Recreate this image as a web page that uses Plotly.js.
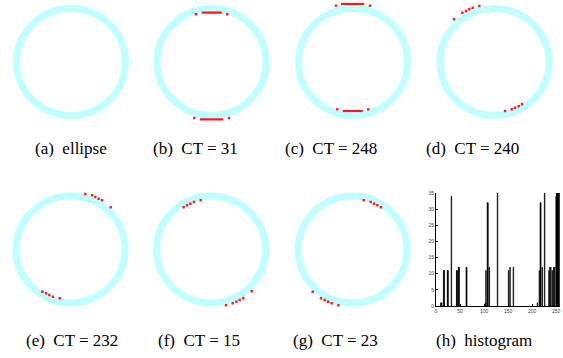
<!DOCTYPE html>
<html><head><meta charset="utf-8">
<script src="https://cdn.plot.ly/plotly-3.0.1.min.js"></script>
<style>html,body{margin:0;padding:0;background:#fff}#chart{width:563px;height:358px}</style>
</head><body><div id="chart"></div>
<script>
// ---- captions ----
const captions = ['(a)\u00a0 ellipse', '(b)\u00a0 CT = 31', '(c)\u00a0 CT = 248', '(d)\u00a0 CT = 240',
                  '(e)\u00a0 CT = 232', '(f)\u00a0 CT = 15', '(g)\u00a0 CT = 23', '(h)\u00a0 histogram'];

// ---- red points per panel (pixel coords relative to ring centre, y up) ----
const dotsAx = [], dotsAy = [];
const dotsBx = [-15.5, 15.8, -17.2, 17.5];
const dotsBy = [47.7, 47.7, -56, -56];
const segBx = [-9.8, 10.2, null, -11.5, 11.8];
const segBy = [49.3, 49.3, null, -57.3, -57.3];
const dotsCx = [-17, 17, -15.7, 15.3];
const dotsCy = [56.3, 56.3, -47.3, -47.3];
const segCx = [-12, 11.3, null, -10.3, 9.7];
const segCy = [58, 58, null, -49, -49];
const dotsDx = [-40.5, -32.2, -28.5, -25.2, -21.8, -15.2, 10.5, 17.2, 20.5, 24.2, 27.5];
const dotsDy = [42.7, 49.3, 51, 52.7, 54.3, 56, -49, -47.3, -45.7, -44.3, -42.3];
const dotsEx = [14.8, 21.5, 24.8, 28.2, 31.5, 40.2, -28.2, -24.5, -21.2, -17.5, -10.8];
const dotsEy = [55.5, 54.2, 52.5, 50.8, 49.2, 42.2, -42.2, -43.8, -45.5, -47.2, -48.8];
const dotsFx = [-27.3, -24, -20.7, -17, -10.3, 15, 21.7, 25.3, 28.7, 32.3, 40.7];
const dotsFy = [42.2, 44.2, 45.8, 47.5, 49.2, -55.8, -53.8, -52.2, -50.5, -48.8, -41.8];
const dotsGx = [11.2, 18.2, 21.5, 24.8, 28.5, -39.8, -31.5, -27.8, -24.5, -20.8, -14.2];
const dotsGy = [49.2, 47.5, 45.8, 44.2, 42.2, -42.2, -48.8, -50.5, -52.2, -53.8, -55.8];

// ---- histogram of CT values ----
const histCT    = [10, 12, 16, 17, 24, 25, 32, 43, 44, 47, 48, 63, 64, 103, 104, 107, 108, 111, 128, 151, 154, 161,
                   211, 215, 217, 218, 221, 226, 235, 237, 239, 242, 245, 247, 250, 251, 252, 253, 254, 255, 256];
const histCount = [1, 1, 11, 11, 11, 11, 34, 11, 11, 12, 12, 12, 12, 1, 11, 32, 32, 12, 35, 11, 12, 12,
                   1, 11, 32, 32, 12, 35, 11, 12, 12, 11, 12, 12, 34, 35, 35, 35, 35, 35, 35];
const histXTicks = [0, 50, 100, 150, 200, 250];
const histYTicks = [0, 5, 10, 15, 20, 25, 30, 35];

// ---- layout geometry ----
const W = 563, H = 358;
const HW = 68, HH = 62;          // half size of each ring panel (px)
const ringRx = 54.5, ringRy = 53.5;
const panelCentres = [[71, 62], [211.5, 62], [353, 62], [494.5, 62], [70.5, 249.5], [211, 249.5], [352.5, 249.5]];
const dotSets = [[dotsAx, dotsAy], [dotsBx, dotsBy], [dotsCx, dotsCy], [dotsDx, dotsDy], [dotsEx, dotsEy], [dotsFx, dotsFy], [dotsGx, dotsGy]];
const segSets = [null, [segBx, segBy], [segCx, segCy], null, null, null, null];
const capPos = [[71, 148], [195, 148], [331, 148], [472, 148], [72, 340], [199, 340], [335, 340], [483.5, 340]];

const red = '#ff1a1a';
const data = [];
const layout = {
  width: W, height: H, margin: {l: 0, r: 0, t: 0, b: 0},
  paper_bgcolor: '#fff', plot_bgcolor: 'rgba(0,0,0,0)',
  showlegend: false, shapes: [], annotations: []
};
panelCentres.forEach(([cx, cy], i) => {
  const n = i + 1, xa = 'x' + n, ya = 'y' + n;
  const ax = {visible: false, showgrid: false, zeroline: false, fixedrange: true};
  layout['xaxis' + n] = Object.assign({}, ax, {domain: [(cx - HW) / W, (cx + HW) / W], range: [-HW, HW], anchor: ya});
  layout['yaxis' + n] = Object.assign({}, ax, {domain: [1 - (cy + HH) / H, 1 - (cy - HH) / H], range: [-HH, HH], anchor: xa});
  layout.shapes.push({type: 'circle', xref: xa, yref: ya, x0: -ringRx, x1: ringRx, y0: -ringRy, y1: ringRy,
    line: {color: '#bfffff', width: 7}, layer: 'below'});
  if (segSets[i]) data.push({type: 'scatter', mode: 'lines', x: segSets[i][0], y: segSets[i][1], xaxis: xa, yaxis: ya,
    line: {color: red, width: 2.2}, connectgaps: false, hoverinfo: 'skip'});
  if (dotSets[i][0].length) data.push({type: 'scatter', mode: 'markers', x: dotSets[i][0], y: dotSets[i][1], xaxis: xa, yaxis: ya,
    marker: {symbol: 'square', size: 2.4, color: red, line: {width: 0}}, hoverinfo: 'skip'});
});

// histogram panel
layout.xaxis8 = {domain: [436 / W, 560 / W], range: [0, 258], anchor: 'y8', tickvals: histXTicks, ticktext: histXTicks.map(String),
  showgrid: false, zeroline: false, showline: true, linecolor: '#000', linewidth: 1, ticks: 'inside', ticklen: 2, tickcolor: '#000',
  tickfont: {size: 5, color: '#444', family: 'Liberation Sans, Arial'}, fixedrange: true};
layout.yaxis8 = {domain: [1 - 306 / H, 1 - 193 / H], range: [0, 35], anchor: 'x8', tickvals: histYTicks, ticktext: histYTicks.map(String),
  showgrid: false, zeroline: false, showline: true, linecolor: '#000', linewidth: 1, ticks: 'inside', ticklen: 2, tickcolor: '#000',
  tickfont: {size: 5, color: '#444', family: 'Liberation Sans, Arial'}, fixedrange: true};
data.push({type: 'bar', x: histCT, y: histCount, xaxis: 'x8', yaxis: 'y8', width: 1.2,
  marker: {color: '#000', line: {color: '#000', width: 0.6}}, hoverinfo: 'skip'});

captions.forEach((t, i) => {
  layout.annotations.push({text: t, xref: 'paper', yref: 'paper', x: capPos[i][0] / W, y: 1 - capPos[i][1] / H,
    xanchor: 'center', yanchor: 'middle', showarrow: false,
    font: {family: 'Liberation Serif, Times New Roman, serif', size: 17, color: '#000'}});
});

Plotly.newPlot('chart', data, layout, {staticPlot: true, displayModeBar: false});
</script>
</body></html>
